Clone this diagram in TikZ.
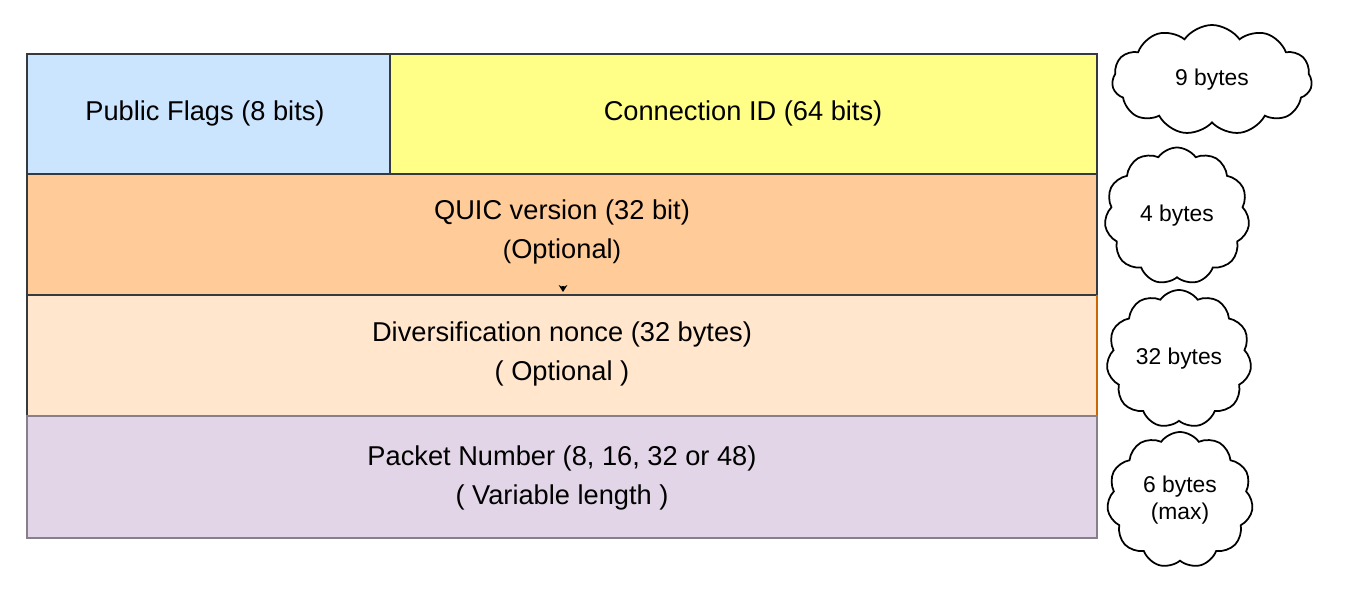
\documentclass[tikz,border=0pt]{standalone}
\usepackage{fontspec}
\setmainfont{Liberation Sans}
\usetikzlibrary{shapes.symbols,arrows.meta}
\definecolor{cblue}{HTML}{CCE5FF}
\definecolor{cyel}{HTML}{FFFF88}
\definecolor{corg}{HTML}{FFCC99}
\definecolor{cpeach}{HTML}{FFE6CC}
\definecolor{cpurp}{HTML}{E1D5E7}
\definecolor{cedge}{HTML}{36393D}
\tikzset{
 field/.style={draw=cedge,line width=1.2pt},
 ftext/.style={align=center,font=\fontsize{15.5}{19}\selectfont},
 cloudbox/.style={cloud,cloud puffs=11,cloud puff arc=110,aspect=1.3,draw=black,line width=1pt,fill=white,align=center,font=\fontsize{13}{15}\selectfont,inner sep=0pt}
}
\begin{document}
\begin{tikzpicture}[x=0.02cm,y=-0.02cm]
\useasboundingbox (0,0) rectangle (1360,591);
\draw[field,fill=cblue] (27,54) rectangle (390,174);
\node[ftext] (pf) at (205,113) {Public Flags (8 bits)};
\draw[field,fill=cyel] (390,54) rectangle (1097,174);
\node[ftext] (cid) at (743,113) {Connection ID (64 bits)};
\draw[field,fill=corg] (27,174) rectangle (1097,295);
\node[ftext] (qv) at (562,232) {QUIC version (32 bit)\\[3pt]{\Large(}Optional{\Large)}};
\draw[field,fill=cpeach] (27,295) rectangle (1097,416);
\draw[draw=orange!80!black,line width=1pt] (1097,295) -- (1097,416);
\node[ftext] (dn) at (562,354) {Diversification nonce (32 bytes)\\[3pt]( Optional )};
\draw[field,fill=cpurp,draw=cpurp!60!black] (27,416) rectangle (1097,538);
\node[ftext] (pn) at (562,478) {Packet Number (8, 16, 32 or 48)\\[3pt]( Variable length )};
\coordinate (t1) at (563,286);
\coordinate (t2) at (563,292);
\draw[-{Stealth[length=4pt,width=5pt]},line width=0.6pt] (t1) -- (t2);
\node[cloudbox,minimum width=200*0.02cm,minimum height=110*0.02cm] (c1) at (1212,80) {9 bytes};
\node[cloudbox,aspect=1,minimum width=145*0.02cm,minimum height=137*0.02cm] (c2) at (1177,216) {4 bytes};
\node[cloudbox,aspect=1,minimum width=145*0.02cm,minimum height=138*0.02cm] (c3) at (1179,359) {32 bytes};
\node[cloudbox,aspect=1,minimum width=146*0.02cm,minimum height=136*0.02cm] (c4) at (1180,500) {6 bytes\\(max)};
\end{tikzpicture}
\end{document}
